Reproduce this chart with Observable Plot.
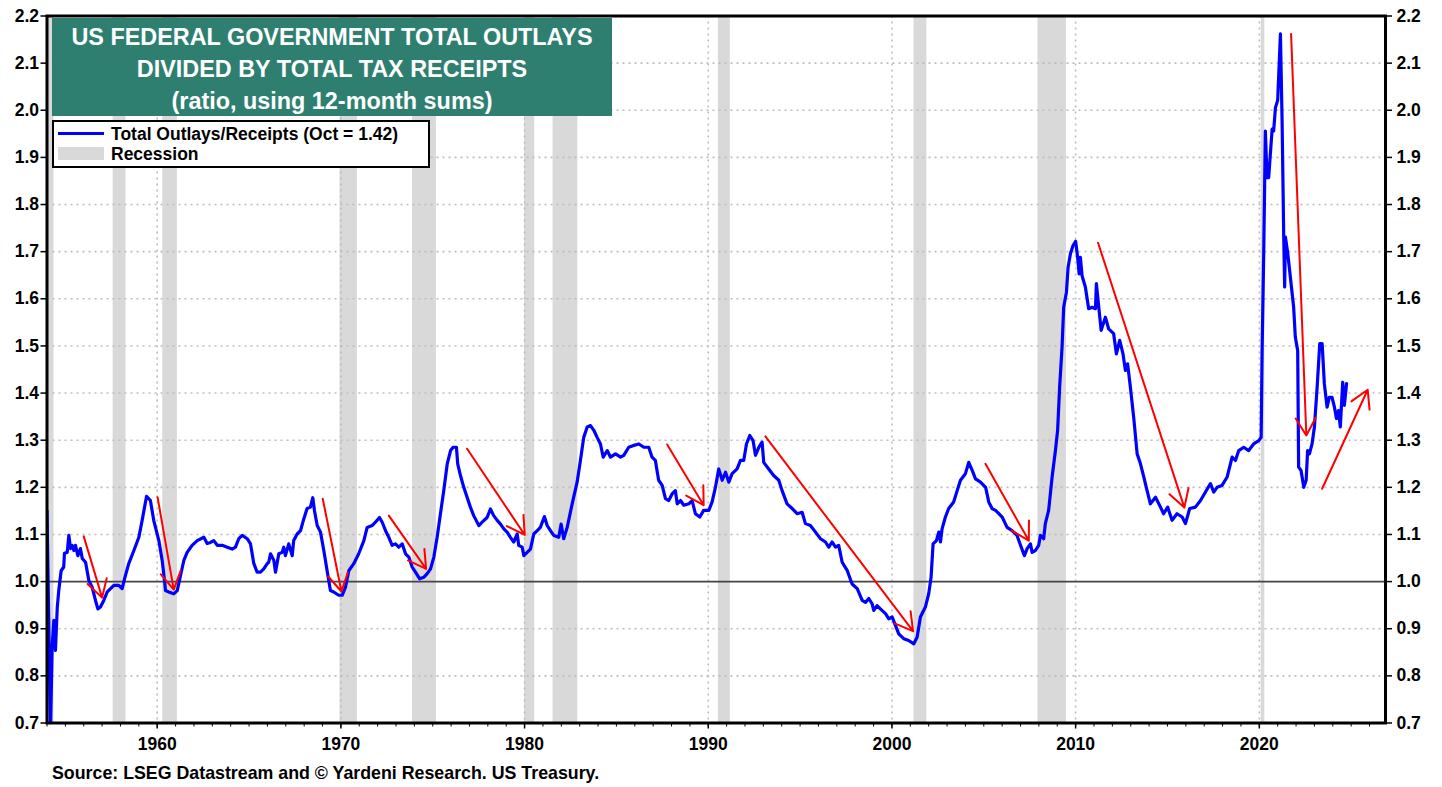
<!DOCTYPE html>
<html>
<head>
<meta charset="utf-8">
<script src="https://cdn.jsdelivr.net/npm/d3@7"></script>
<script src="https://cdn.jsdelivr.net/npm/@observablehq/plot@0.6"></script>
<style>
  body { margin: 0; background: #fff; font-family: "Liberation Sans", Arial, sans-serif; }
  #wrap { position: relative; width: 1442px; height: 787px; overflow: hidden; }
  #wrap svg { position: absolute; left: 0; top: 0; }
  #title { position: absolute; left: 52px; top: 18px; width: 560px; height: 98px; background: #2f7f70;
    color: #fff; font-weight: bold; font-size: 23.4px; text-align: center; line-height: 32px;
    padding-top: 3px; box-sizing: border-box; }
  #legend { position: absolute; left: 52px; top: 120px; width: 378px; height: 48px; border: 2px solid #000;
    background: #fff; box-sizing: border-box; font-weight: bold; font-size: 17.5px; }
  #legend .sw1 { position: absolute; left: 4px; top: 10px; width: 46px; height: 3px; background: #0000ff; }
  #legend .sw2 { position: absolute; left: 4px; top: 25px; width: 46px; height: 13px; background: #d9d9d9; }
  #legend .t1 { position: absolute; left: 57px; top: 2px; line-height: 20px; }
  #legend .t2 { position: absolute; left: 57px; top: 22px; line-height: 20px; }
  #caption { position: absolute; left: 52px; top: 763px; font-weight: bold; font-size: 17.8px; line-height: 20px; }
</style>
</head>
<body>
<div id="wrap">
  <div id="title">US FEDERAL GOVERNMENT TOTAL OUTLAYS<br>DIVIDED BY TOTAL TAX RECEIPTS<br>(ratio, using 12-month sums)</div>
  <div id="legend"><div class="sw1"></div><div class="t1">Total Outlays/Receipts (Oct = 1.42)</div><div class="sw2"></div><div class="t2">Recession</div></div>
  <div id="caption">Source: LSEG Datastream and © Yardeni Research. US Treasury.</div>
</div>
<script>
// ---- data ----
const seriesYears = [
  1954.00,1954.19,1954.28,1954.37,1954.46,1954.56,1954.64,1954.77,1954.91,1954.95,
  1955.10,1955.19,1955.28,1955.37,1955.46,1955.55,1955.68,1955.82,1955.92,1956.10,
  1956.28,1956.46,1956.64,1956.77,1956.91,1957.09,1957.28,1957.46,1957.64,1957.91,
  1958.09,1958.27,1958.45,1958.73,1959.00,1959.18,1959.42,1959.63,1959.81,1960.09,
  1960.27,1960.40,1960.45,1960.63,1960.90,1961.09,1961.17,1961.27,1961.45,1961.63,
  1961.90,1962.18,1962.54,1962.72,1962.90,1963.08,1963.27,1963.54,1963.81,1964.08,
  1964.26,1964.44,1964.63,1964.90,1965.08,1965.26,1965.44,1965.62,1965.80,1965.99,
  1966.07,1966.17,1966.35,1966.44,1966.62,1966.80,1966.89,1966.98,1967.16,1967.35,
  1967.43,1967.62,1967.80,1967.98,1968.16,1968.34,1968.47,1968.56,1968.71,1968.89,
  1969.07,1969.25,1969.43,1969.61,1969.88,1970.07,1970.25,1970.43,1970.70,1970.97,
  1971.25,1971.43,1971.70,1971.88,1972.10,1972.25,1972.43,1972.61,1972.79,1972.97,
  1973.15,1973.34,1973.52,1973.70,1973.88,1974.06,1974.29,1974.51,1974.70,1974.88,
  1975.06,1975.24,1975.42,1975.60,1975.79,1975.97,1976.11,1976.29,1976.36,1976.51,
  1976.69,1976.87,1977.05,1977.23,1977.51,1977.69,1977.96,1978.14,1978.32,1978.51,
  1978.69,1978.87,1979.05,1979.23,1979.41,1979.60,1979.68,1979.87,1979.96,1980.14,
  1980.32,1980.50,1980.69,1980.86,1981.08,1981.23,1981.41,1981.59,1981.86,1981.99,
  1982.13,1982.32,1982.59,1982.86,1983.04,1983.22,1983.41,1983.59,1983.77,1983.95,
  1984.13,1984.28,1984.50,1984.68,1984.95,1985.22,1985.40,1985.67,1985.94,1986.22,
  1986.49,1986.76,1986.94,1987.12,1987.30,1987.49,1987.67,1987.85,1988.03,1988.21,
  1988.31,1988.49,1988.67,1988.94,1989.12,1989.30,1989.54,1989.75,1990.03,1990.21,
  1990.39,1990.57,1990.76,1990.94,1991.12,1991.30,1991.57,1991.75,1991.93,1992.08,
  1992.26,1992.44,1992.57,1992.75,1992.93,1993.02,1993.29,1993.56,1993.84,1994.02,
  1994.29,1994.57,1994.84,1995.11,1995.29,1995.56,1995.84,1996.11,1996.38,1996.56,
  1996.74,1996.93,1997.10,1997.29,1997.56,1997.83,1998.11,1998.38,1998.56,1998.74,
  1998.92,1999.01,1999.19,1999.37,1999.65,1999.83,2000.01,2000.19,2000.37,2000.64,
  2000.91,2001.19,2001.37,2001.55,2001.82,2002.00,2002.13,2002.24,2002.42,2002.55,
  2002.64,2002.73,2002.91,2003.09,2003.36,2003.55,2003.73,2004.00,2004.18,2004.37,
  2004.55,2004.82,2005.10,2005.27,2005.45,2005.64,2005.82,2006.00,2006.27,2006.54,
  2006.81,2007.00,2007.21,2007.36,2007.54,2007.63,2007.81,2007.99,2008.08,2008.26,
  2008.35,2008.53,2008.72,2008.90,2009.02,2009.13,2009.26,2009.35,2009.50,2009.59,
  2009.72,2009.86,2010.00,2010.11,2010.19,2010.26,2010.35,2010.53,2010.71,2010.90,
  2011.08,2011.13,2011.26,2011.39,2011.62,2011.80,2012.07,2012.22,2012.40,2012.58,
  2012.71,2012.83,2012.98,2013.16,2013.35,2013.53,2013.71,2013.89,2014.07,2014.35,
  2014.62,2014.79,2015.01,2015.25,2015.52,2015.80,2015.98,2016.21,2016.52,2016.80,
  2017.07,2017.34,2017.52,2017.70,2017.97,2018.25,2018.52,2018.70,2018.88,2019.15,
  2019.42,2019.69,2019.97,2020.10,2020.15,2020.24,2020.33,2020.42,2020.51,2020.60,
  2020.70,2020.78,2020.88,2021.00,2021.15,2021.24,2021.33,2021.38,2021.42,2021.55,
  2021.69,2021.87,2021.96,2022.09,2022.14,2022.27,2022.42,2022.55,2022.63,2022.73,
  2022.87,2023.00,2023.15,2023.29,2023.42,2023.54,2023.69,2023.81,2023.96,2024.09,
  2024.20,2024.31,2024.41,2024.54,2024.63,2024.75
];
const seriesValues = [
  1.150,0.680,0.861,0.918,0.854,0.946,0.981,1.023,1.031,1.060,
  1.062,1.098,1.070,1.077,1.066,1.077,1.055,1.070,1.049,1.041,
  1.002,0.988,0.960,0.942,0.946,0.960,0.978,0.985,0.992,0.992,
  0.985,1.013,1.038,1.066,1.094,1.130,1.181,1.172,1.130,1.087,
  1.045,1.002,0.981,0.978,0.974,0.981,0.995,1.013,1.045,1.062,
  1.077,1.087,1.094,1.081,1.083,1.087,1.077,1.077,1.073,1.069,
  1.073,1.091,1.098,1.091,1.080,1.038,1.020,1.020,1.027,1.038,
  1.041,1.059,1.045,1.020,1.059,1.062,1.073,1.055,1.080,1.055,
  1.087,1.101,1.108,1.133,1.155,1.158,1.178,1.151,1.119,1.105,
  1.066,1.023,0.981,0.978,0.971,0.971,0.988,1.023,1.038,1.059,
  1.087,1.115,1.119,1.126,1.136,1.126,1.108,1.094,1.077,1.080,
  1.073,1.080,1.059,1.052,1.031,1.020,1.006,1.009,1.017,1.027,
  1.052,1.094,1.144,1.193,1.250,1.278,1.285,1.285,1.250,1.225,
  1.200,1.179,1.158,1.140,1.119,1.126,1.136,1.154,1.140,1.130,
  1.122,1.112,1.105,1.094,1.084,1.101,1.077,1.073,1.055,1.062,
  1.069,1.101,1.108,1.115,1.138,1.119,1.108,1.098,1.094,1.122,
  1.091,1.115,1.165,1.211,1.257,1.306,1.328,1.331,1.321,1.306,
  1.292,1.264,1.278,1.264,1.271,1.264,1.268,1.285,1.289,1.292,
  1.285,1.285,1.264,1.257,1.215,1.204,1.176,1.172,1.186,1.193,
  1.165,1.172,1.162,1.165,1.172,1.144,1.137,1.151,1.151,1.169,
  1.200,1.239,1.215,1.232,1.211,1.229,1.239,1.257,1.257,1.292,
  1.310,1.299,1.268,1.285,1.296,1.253,1.239,1.225,1.215,1.193,
  1.165,1.155,1.144,1.147,1.123,1.119,1.105,1.091,1.084,1.073,
  1.084,1.073,1.077,1.041,1.024,0.995,0.985,0.960,0.956,0.964,
  0.953,0.939,0.949,0.942,0.932,0.921,0.925,0.907,0.889,0.879,
  0.875,0.868,0.882,0.925,0.946,0.974,1.009,1.080,1.087,1.105,
  1.084,1.112,1.137,1.155,1.169,1.193,1.215,1.229,1.253,1.236,
  1.218,1.211,1.200,1.169,1.155,1.151,1.144,1.137,1.115,1.108,
  1.098,1.077,1.055,1.070,1.080,1.062,1.066,1.077,1.098,1.091,
  1.123,1.151,1.222,1.278,1.321,1.413,1.497,1.582,1.614,1.667,
  1.696,1.713,1.722,1.688,1.653,1.688,1.649,1.625,1.579,1.582,
  1.579,1.632,1.582,1.533,1.561,1.536,1.526,1.483,1.512,1.483,
  1.448,1.462,1.413,1.349,1.271,1.250,1.222,1.193,1.165,1.179,
  1.158,1.144,1.158,1.130,1.144,1.137,1.123,1.155,1.158,1.172,
  1.190,1.208,1.190,1.200,1.204,1.222,1.264,1.257,1.278,1.285,
  1.278,1.292,1.299,1.306,1.483,1.696,1.956,1.857,1.857,1.907,
  1.960,1.956,2.006,2.021,2.162,1.978,1.731,1.625,1.731,1.696,
  1.646,1.582,1.519,1.490,1.243,1.236,1.200,1.215,1.278,1.271,
  1.292,1.328,1.413,1.505,1.505,1.420,1.370,1.391,1.391,1.370,
  1.346,1.363,1.328,1.423,1.374,1.420
];

const recessionStart = [1953.55, 1957.60, 1960.30, 1969.95, 1973.90, 1980.00, 1981.55, 1990.55, 2001.20, 2007.95, 2020.10];
const recessionEnd   = [1954.38, 1958.30, 1961.10, 1970.90, 1975.20, 1980.55, 1982.90, 1991.20, 2001.90, 2009.50, 2020.30];

const arrowX1 = [1956.00, 1960.02, 1969.01, 1972.61, 1976.87, 1987.76, 1993.11, 2005.09, 2011.22, 2021.73, 2023.42];
const arrowY1 = [1.096, 1.179, 1.176, 1.140, 1.282, 1.291, 1.308, 1.250, 1.719, 2.162, 1.197];
const arrowX2 = [1957.00, 1960.90, 1970.03, 1974.64, 1980.01, 1989.75, 2001.15, 2007.45, 2015.92, 2022.56, 2025.90];
const arrowY2 = [0.966, 0.983, 0.979, 1.027, 1.099, 1.162, 0.895, 1.087, 1.157, 1.310, 1.407];

const yTicks = [0.7, 0.8, 0.9, 1.0, 1.1, 1.2, 1.3, 1.4, 1.5, 1.6, 1.7, 1.8, 1.9, 2.0, 2.1, 2.2];
const yGrid = [0.8, 0.9, 1.1, 1.2, 1.3, 1.4, 1.5, 1.6, 1.7, 1.8, 1.9, 2.0, 2.1];
const xTicks = [1960, 1970, 1980, 1990, 2000, 2010, 2020];
const xMinorTicks = d3.range(1954, 2027);

// ---- tables ----
const series = seriesYears.map((y, i) => ({year: y, value: seriesValues[i]}));
const recessions = recessionStart.map((s, i) => ({start: s, end: recessionEnd[i]}));
const arrows = arrowX1.map((x, i) => ({x1: x, y1: arrowY1[i], x2: arrowX2[i], y2: arrowY2[i]}));

const chart = Plot.plot({
  width: 1442,
  height: 787,
  marginLeft: 46.5,
  marginRight: 57,
  marginTop: 15.5,
  marginBottom: 64.5,
  style: {fontFamily: "Liberation Sans, Arial, sans-serif", fontSize: "17px", fontWeight: "bold", color: "#000", background: "transparent", overflow: "visible"},
  x: {domain: [1954, 2026.87], label: null},
  y: {domain: [0.7, 2.2], label: null},
  marks: [
    Plot.rect(recessions, {x1: "start", x2: "end", fill: "#d9d9d9", clip: true}),
    Plot.gridY(yGrid, {stroke: "#bdbdbd", strokeOpacity: 1, strokeWidth: 1.6, strokeDasharray: "2,4"}),
    Plot.gridX(xTicks, {stroke: "#bdbdbd", strokeOpacity: 1, strokeWidth: 1.6, strokeDasharray: "2,4"}),
    Plot.ruleY([1.0], {stroke: "#444", strokeWidth: 1.6}),
    Plot.line(series, {x: "year", y: "value", stroke: "#0000ff", strokeWidth: 3.2, clip: true}),
    Plot.arrow(arrows, {x1: "x1", y1: "y1", x2: "x2", y2: "y2", stroke: "#ff0000", strokeWidth: 2, headLength: 15, headAngle: 60}),
    Plot.frame({stroke: "#000", strokeWidth: 3}),
    Plot.axisY(yTicks, {anchor: "left", tickSize: 6, tickPadding: 2, strokeWidth: 1.5, tickFormat: d => d.toFixed(1), fontSize: 17.5, fontWeight: "bold", label: null}),
    Plot.axisY(yTicks, {anchor: "right", tickSize: 6, tickPadding: 5, strokeWidth: 1.5, tickFormat: d => d.toFixed(1), fontSize: 17.5, fontWeight: "bold", label: null}),
    Plot.axisX(xMinorTicks, {anchor: "bottom", tickSize: 4, strokeWidth: 1, tickFormat: () => "", label: null}),
    Plot.axisX(xTicks, {anchor: "bottom", tickSize: 6, tickPadding: 9, strokeWidth: 1.5, tickFormat: d => String(d), fontSize: 17.5, fontWeight: "bold", label: null})
  ]
});
document.getElementById("wrap").insertBefore(chart, document.getElementById("wrap").firstChild);
</script>
</body>
</html>
